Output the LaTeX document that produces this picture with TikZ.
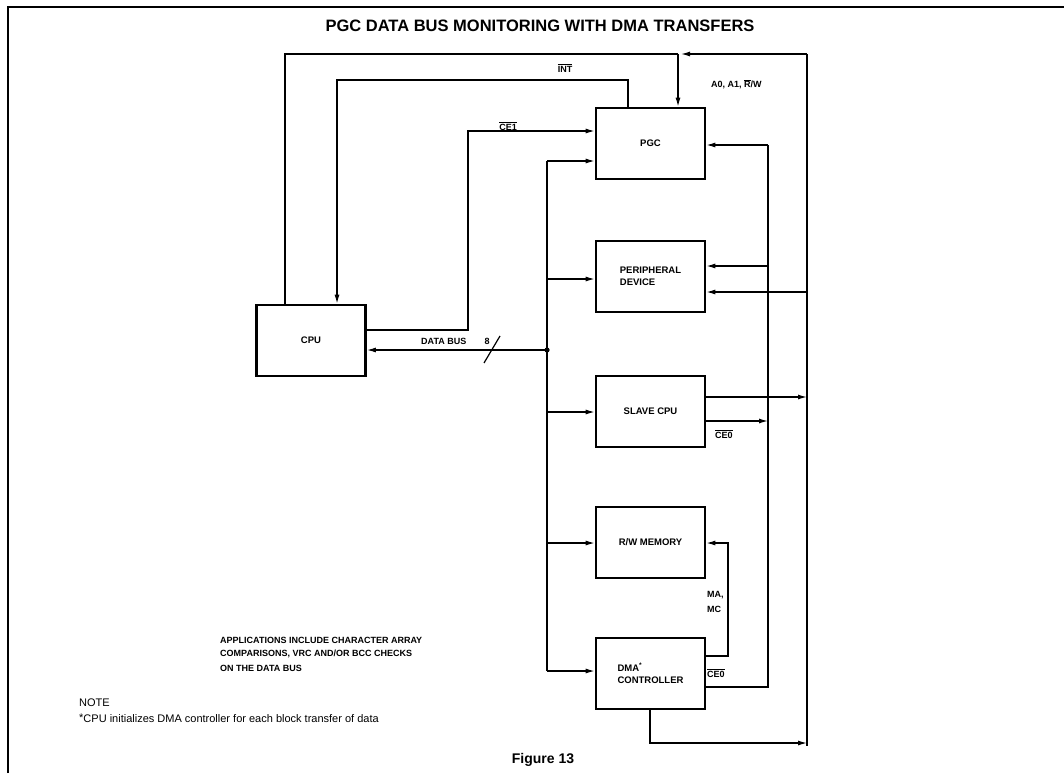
\documentclass[tikz,border=0pt]{standalone}
\usepackage{fontspec}
\setmainfont{Liberation Sans}
\usetikzlibrary{arrows.meta}
\tikzset{
  box/.style={draw, line width=2.8pt, minimum width=109pt, minimum height=71pt, inner sep=0pt,
              font=\fontsize{9.5}{12}\selectfont\bfseries, align=left},
  wire/.style={line width=1.2pt},
  arr/.style={wire, -{Latex[length=9pt,width=5pt]}},
  lbl/.style={font=\fontsize{9}{11}\selectfont\bfseries, inner sep=0pt},
  note/.style={font=\fontsize{11}{13}\selectfont, inner sep=0pt, anchor=west},
}
\newcommand{\ovl}[1]{\ensuremath{\overline{\mbox{#1}}}}
\begin{document}
\begin{tikzpicture}[x=1pt,y=-1pt]
\useasboundingbox (0,0) rectangle (1064,773);
% frame
\draw[line width=1.8pt] (8,773) -- (8,7) -- (1064,7);
\node[font=\fontsize{16.5}{20}\selectfont\bfseries, inner sep=0] (title) at (540,26) {PGC DATA BUS MONITORING WITH DMA TRANSFERS};

% boxes
\node[box] (cpu) at (311,340.5) {CPU};
\node[box] (pgc) at (650.5,143.5) {PGC};
\node[box] (per) at (650.5,276.5) {PERIPHERAL\\DEVICE};
\node[box] (slv) at (650.5,411.5) {SLAVE CPU};
\node[box] (mem) at (650.5,542.5) {R/W MEMORY};
\node[box] (dma) at (650.5,673.5) {DMA\textsuperscript{*}\\CONTROLLER};

% coordinates
\coordinate (tl) at (285,54);
\coordinate (tj) at (678,54);
\coordinate (tja) at (681,54);
\coordinate (tr) at (807,54);
\coordinate (br) at (807,746);
\coordinate (int1) at (628,80);
\coordinate (int2) at (337,80);
\coordinate (ce1x) at (468,330);
\coordinate (ce1y) at (468,131);
\coordinate (jn) at (547,350);
\coordinate (b1) at (547,161);
\coordinate (b2) at (547,279);
\coordinate (b3) at (547,412);
\coordinate (b4) at (547,543);
\coordinate (b5) at (547,671);
\coordinate (iv) at (768,145);
\coordinate (iv2) at (768,266);
\coordinate (iv3) at (768,421);
\coordinate (ivb) at (768,687);
\coordinate (ov2) at (807,292);
\coordinate (ov3) at (807,397);
\coordinate (ma1) at (728,656);
\coordinate (ma2) at (728,543);
\coordinate (bot1) at (650,743);
\coordinate (bot2) at (807,743);
\coordinate (s1) at (484,363);
\coordinate (s2) at (500,336);

% A0, A1, R/W loop
\draw[wire] (cpu.north -| tl) -- (tl) -- (tj);
\draw[arr] (tr) -- (tja);
\draw[arr] (tj) -- (tj |- pgc.north);
\draw[wire] (tr) -- (br);
% INT
\draw[arr] (pgc.north -| int1) -- (int1) -- (int2) -- (int2 |- cpu.north);
% CE1
\draw[arr] (cpu.east |- ce1x) -- (ce1x) -- (ce1y) -- (pgc.west |- ce1y);
% data bus
\draw[arr] (jn) -- (jn -| cpu.east);
\draw[wire] (s1) -- (s2);
\fill (jn) circle (2.6pt);
\draw[wire] (b1) -- (b5);
\draw[arr] (b1) -- (pgc.west |- b1);
\draw[arr] (b2) -- (per.west |- b2);
\draw[arr] (b3) -- (slv.west |- b3);
\draw[arr] (b4) -- (mem.west |- b4);
\draw[arr] (b5) -- (dma.west |- b5);
% inner right bus
\draw[wire] (iv) -- (ivb) -- (dma.east |- ivb);
\draw[arr] (iv) -- (pgc.east |- iv);
\draw[arr] (iv2) -- (per.east |- iv2);
\draw[arr] (slv.east |- iv3) -- (iv3);
% outer right bus
\draw[arr] (ov2) -- (per.east |- ov2);
\draw[arr] (slv.east |- ov3) -- (ov3);
% MA, MC
\draw[arr] (dma.east |- ma1) -- (ma1) -- (ma2) -- (mem.east |- ma2);
% DMA bottom
\draw[arr] (dma.south -| bot1) -- (bot1) -- (bot2);

% labels
\node[lbl] (lint) at (565,68) {\ovl{INT}};
\node[lbl] (lce1) at (508,126) {\ovl{CE1}};
\node[lbl, anchor=west] (laddr) at (711,84) {A0, A1, \ovl{R}/W};
\node[lbl, anchor=west] (lce0a) at (715,434) {\ovl{CE0}};
\node[lbl, anchor=west] (lce0b) at (707,673) {\ovl{CE0}};
\node[lbl, anchor=west] (lma) at (707,595) {MA,};
\node[lbl, anchor=west] (lmc) at (707,609) {MC};
\node[lbl, anchor=west] (ldb) at (421,341) {DATA BUS};
\node[lbl] (l8) at (487,341) {8};

\node[lbl, anchor=west] (app1) at (220,640) {APPLICATIONS INCLUDE CHARACTER ARRAY};
\node[lbl, anchor=west] (app2) at (220,654) {COMPARISONS, VRC AND/OR BCC CHECKS};
\node[lbl, anchor=west] (app3) at (220,668) {ON THE DATA BUS};

\node[note] (nt) at (79,703) {NOTE};
\node[note] (nt2) at (79,718) {\raisebox{0.2ex}{*}CPU initializes DMA controller for each block transfer of data};
\node[font=\fontsize{14}{16}\selectfont\bfseries, inner sep=0] (fig) at (543,760) {Figure 13};
\end{tikzpicture}
\end{document}
